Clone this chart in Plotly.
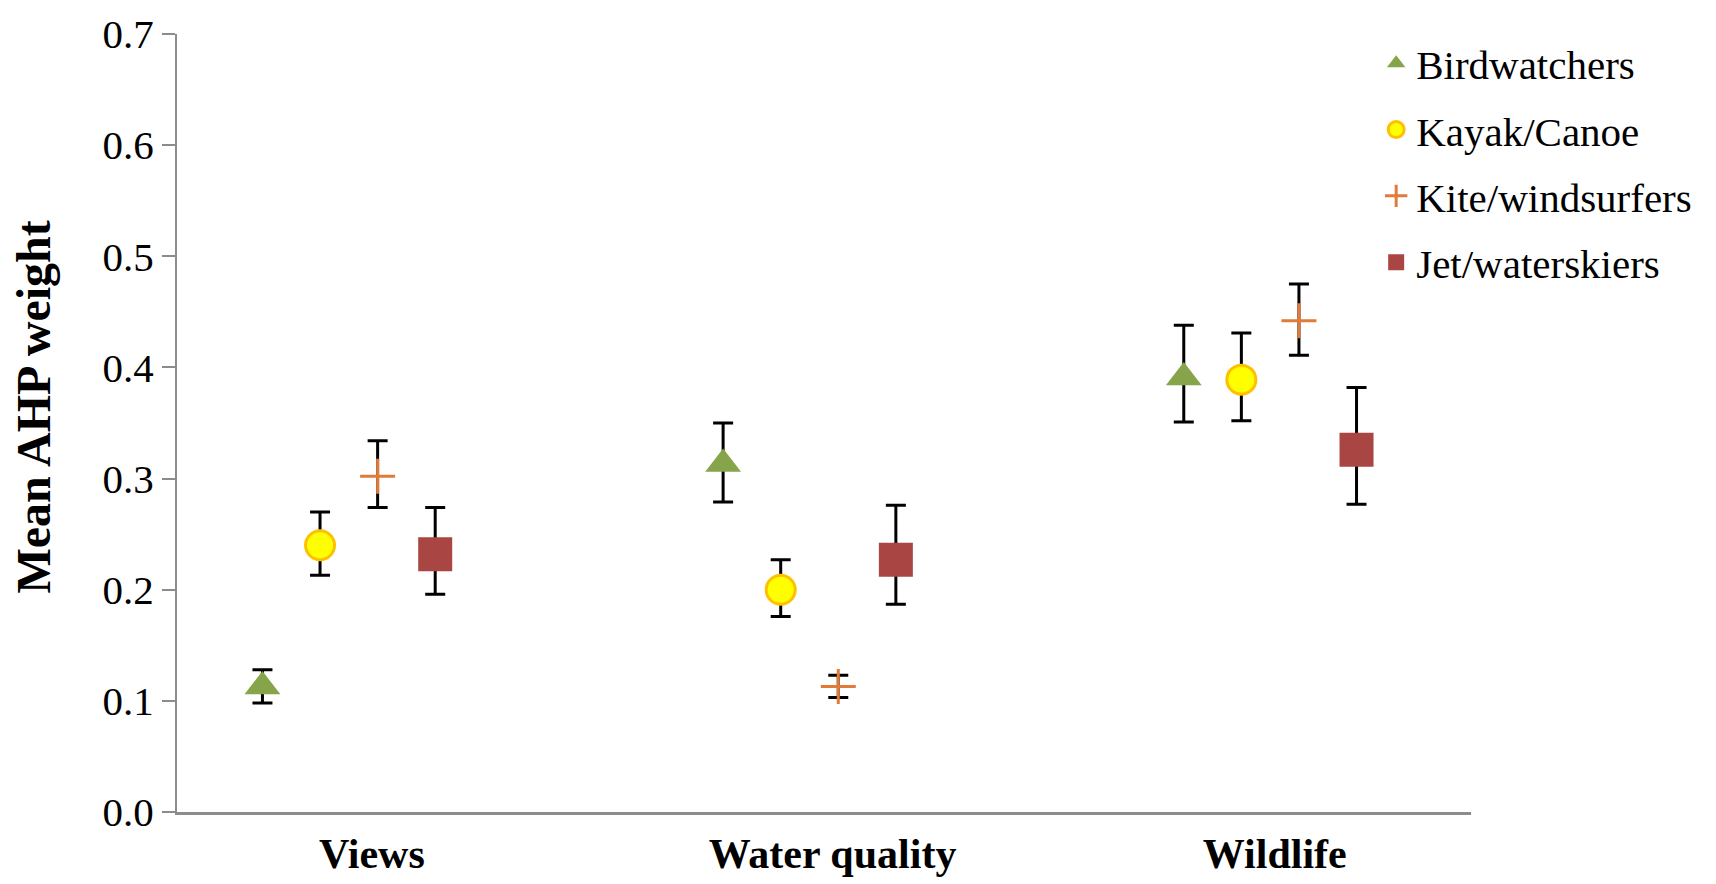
import plotly.graph_objects as go

categories = ["Views", "Water quality", "Wildlife"]
series = ["Birdwatchers", "Kayak/Canoe", "Kite/windsurfers", "Jet/waterskiers"]
means = {
    "Birdwatchers":     [0.113, 0.313, 0.391],
    "Kayak/Canoe":      [0.240, 0.200, 0.389],
    "Kite/windsurfers": [0.302, 0.113, 0.442],
    "Jet/waterskiers":  [0.232, 0.227, 0.326],
}
err_plus = {
    "Birdwatchers":     [0.015, 0.037, 0.047],
    "Kayak/Canoe":      [0.030, 0.027, 0.042],
    "Kite/windsurfers": [0.032, 0.010, 0.033],
    "Jet/waterskiers":  [0.042, 0.049, 0.056],
}
err_minus = {
    "Birdwatchers":     [0.015, 0.034, 0.040],
    "Kayak/Canoe":      [0.027, 0.024, 0.037],
    "Kite/windsurfers": [0.028, 0.010, 0.031],
    "Jet/waterskiers":  [0.036, 0.040, 0.049],
}
y_ticks = [0.0, 0.1, 0.2, 0.3, 0.4, 0.5, 0.6, 0.7]

styles = {
    "Birdwatchers": dict(symbol="triangle-up", size=31, color="#86A44A", line=dict(width=0)),
    "Kayak/Canoe": dict(symbol="circle", size=29, color="#FFFF00", line=dict(width=3, color="#FFC000")),
    "Kite/windsurfers": dict(symbol="cross-thin", size=25, color="#E07B39", line=dict(width=3, color="#E07B39")),
    "Jet/waterskiers": dict(symbol="square", size=34, color="#A94643", line=dict(width=0)),
}

serif = "Liberation Serif, Times New Roman, serif"
fig = go.Figure()
for k, s in enumerate(series):
    xs = [g + (k - 1.5) * 0.125 for g in range(len(categories))]
    fig.add_trace(go.Scatter(
        x=xs, y=means[s], mode="markers", name=s,
        legendgroup=s,
        marker=styles[s],
        error_y=dict(type="data", symmetric=False, array=err_plus[s], arrayminus=err_minus[s],
                     color="black", thickness=3, width=10),
    ))

fig.add_annotation(text="<b>Mean AHP weight</b>", xref="paper", yref="paper",
                   x=-0.1112, y=0.52, xanchor="center", yanchor="middle",
                   textangle=-90, showarrow=False,
                   font=dict(size=48, family=serif, color="black"))

fig.update_layout(
    width=1700, height=876,
    margin=dict(l=169, r=236, t=26, b=72),
    plot_bgcolor="white", paper_bgcolor="white",
    font=dict(family=serif, color="black"),
    showlegend=True,
    legend=dict(x=0.926, y=1.005, xanchor="left", yanchor="top",
                font=dict(size=41, family=serif), traceorder="grouped",
                tracegroupgap=10, itemwidth=30, bgcolor="rgba(0,0,0,0)"),
    xaxis=dict(range=[-0.373, 2.436], tickvals=[0.05, 1.05, 2.01], ticktext=categories,
               showgrid=False, zeroline=False, showline=True, linecolor="#8C8C8C", linewidth=3,
               ticks="", automargin=False, ticklabelstandoff=3,
               tickfont=dict(size=42, family=serif, weight="bold")),
    yaxis=dict(range=[0, 0.7], tickvals=y_ticks, ticktext=[f"{v:.1f}" for v in y_ticks],
               showgrid=False, zeroline=False, showline=True, linecolor="#8C8C8C", linewidth=2,
               ticks="outside", ticklen=13, tickcolor="#8C8C8C", tickwidth=2, automargin=False,
               ticklabeloverflow="allow",
               tickfont=dict(size=41, family=serif)),
)

fig.write_html("out.html")
